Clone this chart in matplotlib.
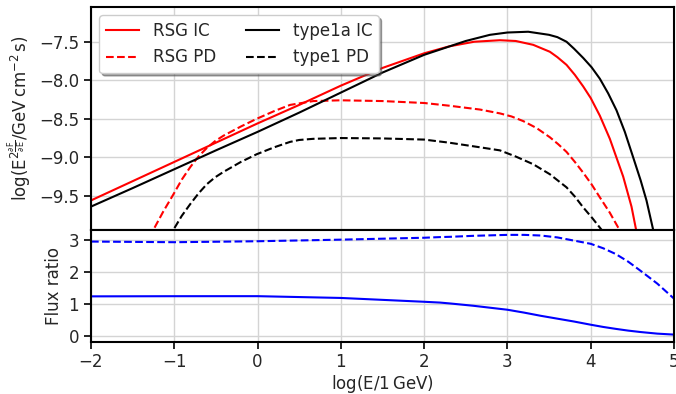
import matplotlib
matplotlib.use("Agg")
import matplotlib.pyplot as plt

# ---- data ----
x_rsg_ic = [-2, -1.5, -1, -0.5, 0, 0.5, 1, 1.5, 2, 2.3, 2.6, 2.91, 3.1, 3.31, 3.51,
            3.6, 3.71, 3.81, 3.91, 4.0, 4.11, 4.23, 4.39, 4.49, 4.545, 4.6]
y_rsg_ic = [-9.56, -9.31, -9.06, -8.81, -8.56, -8.32, -8.07, -7.84, -7.65, -7.56, -7.50,
            -7.48, -7.49, -7.54, -7.63, -7.70, -7.80, -7.93, -8.08, -8.23, -8.46, -8.76,
            -9.25, -9.64, -9.94, -10.3]

x_t1a_ic = [-2, -1.5, -1, -0.5, 0, 0.5, 1, 1.5, 2, 2.5, 2.79, 3.0, 3.25, 3.5, 3.6,
            3.71, 3.8, 3.91, 4.01, 4.11, 4.21, 4.31, 4.41, 4.51, 4.6, 4.67, 4.75, 4.8]
y_t1a_ic = [-9.64, -9.40, -9.155, -8.91, -8.67, -8.42, -8.16, -7.90, -7.67, -7.49, -7.41,
            -7.38, -7.37, -7.41, -7.44, -7.50, -7.59, -7.71, -7.83, -7.98, -8.17, -8.39,
            -8.67, -9.00, -9.30, -9.56, -9.94, -10.3]

x_rsg_pd = [-1.3, -1.25, -1.13, -1.01, -0.91, -0.81, -0.71, -0.61, -0.51, -0.41, -0.2,
            -0.01, 0.2, 0.39, 0.67, 1, 1.5, 2, 2.3, 2.67, 2.91, 3.05, 3.19, 3.35, 3.51,
            3.61, 3.71, 3.81, 3.91, 4.01, 4.11, 4.23, 4.35, 4.4]
y_rsg_pd = [-10.04, -9.94, -9.70, -9.48, -9.29, -9.13, -8.99, -8.88, -8.79, -8.72, -8.60,
            -8.50, -8.40, -8.32, -8.27, -8.26, -8.27, -8.295, -8.33, -8.38, -8.43, -8.47,
            -8.53, -8.62, -8.74, -8.83, -8.93, -9.06, -9.20, -9.35, -9.52, -9.72, -9.95,
            -10.1]

x_t1_pd = [-1.05, -1.01, -0.91, -0.81, -0.71, -0.61, -0.51, -0.41, -0.2, -0.01, 0.2,
           0.39, 0.5, 0.67, 1, 1.5, 2, 2.3, 2.67, 2.91, 3.1, 3.31, 3.51, 3.71, 3.81, 3.91,
           4.02, 4.13, 4.2]
y_t1_pd = [-10.05, -9.94, -9.76, -9.61, -9.47, -9.35, -9.26, -9.19, -9.06, -8.96, -8.87,
           -8.80, -8.775, -8.76, -8.75, -8.755, -8.77, -8.81, -8.87, -8.91, -8.99, -9.09,
           -9.22, -9.39, -9.51, -9.65, -9.79, -9.94, -10.05]

x_ratio = [-2, -1, -0.32, 0, 1, 2, 2.19, 2.32, 2.59, 3, 3.2, 3.4, 3.6, 3.8, 4.0, 4.15,
           4.3, 4.45, 4.6, 4.8, 5.0]
ratio_pd = [2.96, 2.94, 2.96, 2.97, 3.02, 3.08, 3.10, 3.11, 3.14, 3.17, 3.17, 3.15, 3.09,
            2.99, 2.89, 2.75, 2.57, 2.33, 2.04, 1.64, 1.17]
ratio_ic = [1.24, 1.245, 1.246, 1.246, 1.19, 1.07, 1.045, 1.015, 0.945, 0.82, 0.73, 0.63,
            0.54, 0.45, 0.35, 0.28, 0.22, 0.165, 0.12, 0.07, 0.04]

top_yticks = [-7.5, -8.0, -8.5, -9.0, -9.5]
bot_yticks = [0, 1, 2, 3]
xticks = [-2, -1, 0, 1, 2, 3, 4, 5]

# ---- style ----
plt.rcParams['font.family'] = ['DejaVu Sans']
plt.rcParams['font.size'] = 12
plt.rcParams['mathtext.fontset'] = 'dejavusans'
txt = '#262626'
for k in ['text.color', 'axes.labelcolor', 'xtick.color', 'ytick.color']:
    plt.rcParams[k] = txt

fig = plt.figure(figsize=(6.76, 3.94), dpi=100)
gs = fig.add_gridspec(2, 1, height_ratios=[2, 1], hspace=0)
ax1 = fig.add_subplot(gs[0])
ax2 = fig.add_subplot(gs[1], sharex=ax1)
fig.subplots_adjust(left=0.1346, right=0.997, top=0.982, bottom=0.133)

lw = 1.5
ax1.plot(x_rsg_ic, y_rsg_ic, color='red', lw=lw, label='RSG IC')
ax1.plot(x_rsg_pd, y_rsg_pd, color='red', lw=lw, ls='--', label='RSG PD')
ax1.plot(x_t1a_ic, y_t1a_ic, color='black', lw=lw, label='type1a IC')
ax1.plot(x_t1_pd, y_t1_pd, color='black', lw=lw, ls='--', label='type1 PD')

ax2.plot(x_ratio, ratio_pd, color='blue', lw=lw, ls='--')
ax2.plot(x_ratio, ratio_ic, color='blue', lw=lw)

ax1.set_xlim(-2, 5)
ax1.set_ylim(-9.945, -7.05)
ax2.set_ylim(-0.18, 3.32)
ax1.set_yticks(top_yticks)
ax2.set_yticks(bot_yticks)
ax2.set_xticks(xticks)

for ax in (ax1, ax2):
    ax.grid(True, color='#d4d4d4', lw=1.0)
    ax.set_axisbelow(True)
    for s in ax.spines.values():
        s.set_color('black')
        s.set_linewidth(1.5)
    ax.tick_params(width=1.2, length=5, color='black')

ax1.tick_params(axis='x', length=0, labelbottom=False)

ax1.set_ylabel(r'$\log(\mathrm{E^{2\frac{\partial F}{\partial E}}/GeV\,cm^{-2}\,s})$')
ax2.set_ylabel('Flux ratio')
ax2.set_xlabel(r'$\log(\mathrm{E/1\,GeV})$', labelpad=1)

leg = ax1.legend(loc='upper left', ncol=2, shadow=True, fancybox=True, framealpha=1,
                 borderaxespad=0.5, columnspacing=1.8)
leg.get_frame().set_edgecolor('#cccccc')

fig.savefig('out.png', dpi=100)
